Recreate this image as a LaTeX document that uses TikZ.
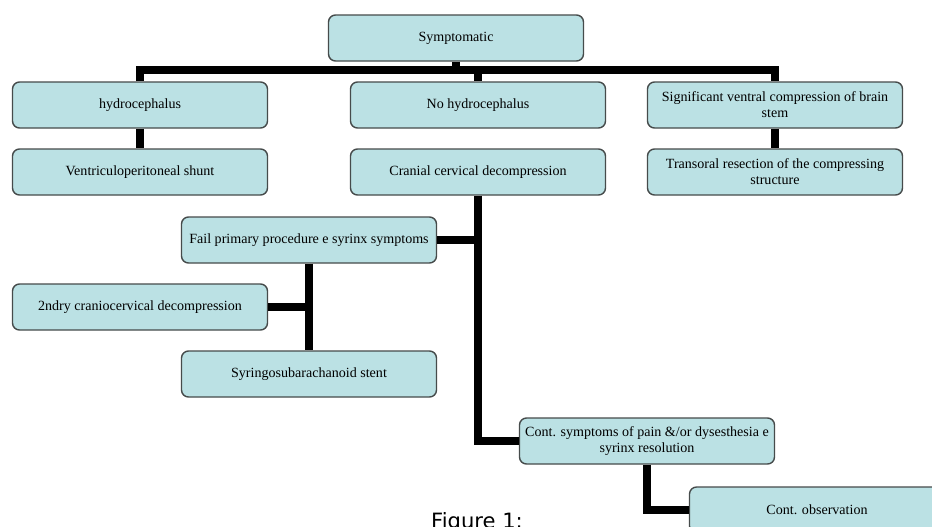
\documentclass[tikz,border=0pt]{standalone}
\usepackage{fontspec}
\setmainfont{Liberation Serif}
\newfontfamily\captionfont{DejaVu Sans}
\usepackage{tikz}
\usetikzlibrary{positioning,calc}
\definecolor{boxfill}{RGB}{187,225,228}
\definecolor{boxline}{RGB}{70,75,75}

\begin{document}
\begin{tikzpicture}[x=0.03cm,y=-0.03cm,font=\fontsize{12}{13.5}\selectfont,
  box/.style={draw=boxline,line width=1.2pt,fill=boxfill,rounded corners=6pt,
    minimum width=7.65cm,minimum height=1.38cm,align=center,inner sep=1pt},
  link/.style={line width=6pt,black}]
\clip (0,0) rectangle (932,526);
\fill[white] (0,0) rectangle (932,526);
% top row
\node[box] (sym) at (456,38) {Symptomatic};
\node[box] (hyd) at (140,105) {hydrocephalus};
\node[box] (nohyd) at (478,105) {No hydrocephalus};
\node[box] (sig) at (775,105) {Significant ventral compression of brain\\stem};
\coordinate (bus) at (456,70);
% second row
\node[box] (vps) at (140,172) {Ventriculoperitoneal shunt};
\node[box] (ccd) at (478,172) {Cranial cervical decompression};
\node[box] (tor) at (775,172) {Transoral resection of the compressing\\structure};
% failure branch
\node[box] (fail) at (309,240) {Fail primary procedure e syrinx symptoms};
\node[box] (sec) at (140,307) {2ndry craniocervical decompression};
\node[box] (stent) at (309,374) {Syringosubarachanoid stent};
% continued symptoms
\node[box] (cont) at (647,441) {Cont. symptoms of pain \&/or dysesthesia e\\syrinx resolution};
\node[box] (obs) at (817,510) {Cont. observation};
\node[anchor=base west,font=\captionfont\fontsize{18}{20}\selectfont,inner sep=0pt] (fig) at (431,528) {Figure 1:};
% connectors
\draw[link] (sym.south) -- (bus);
\draw[link] (hyd.north) |- (bus) -| (sig.north);
\draw[link] (bus -| nohyd.north) -- (nohyd.north);
\draw[link] (hyd.south) -- (vps.north);
\draw[link] (sig.south) -- (tor.north);
\draw[link] (ccd.south) |- (cont.west);
\draw[link] (fail.east) -- (fail.east -| ccd.south);
\draw[link] (fail.south) -- (stent.north);
\draw[link] (sec.east) -- (sec.east -| fail.south);
\draw[link] (cont.south) |- (obs.west);
\end{tikzpicture}
\end{document}
